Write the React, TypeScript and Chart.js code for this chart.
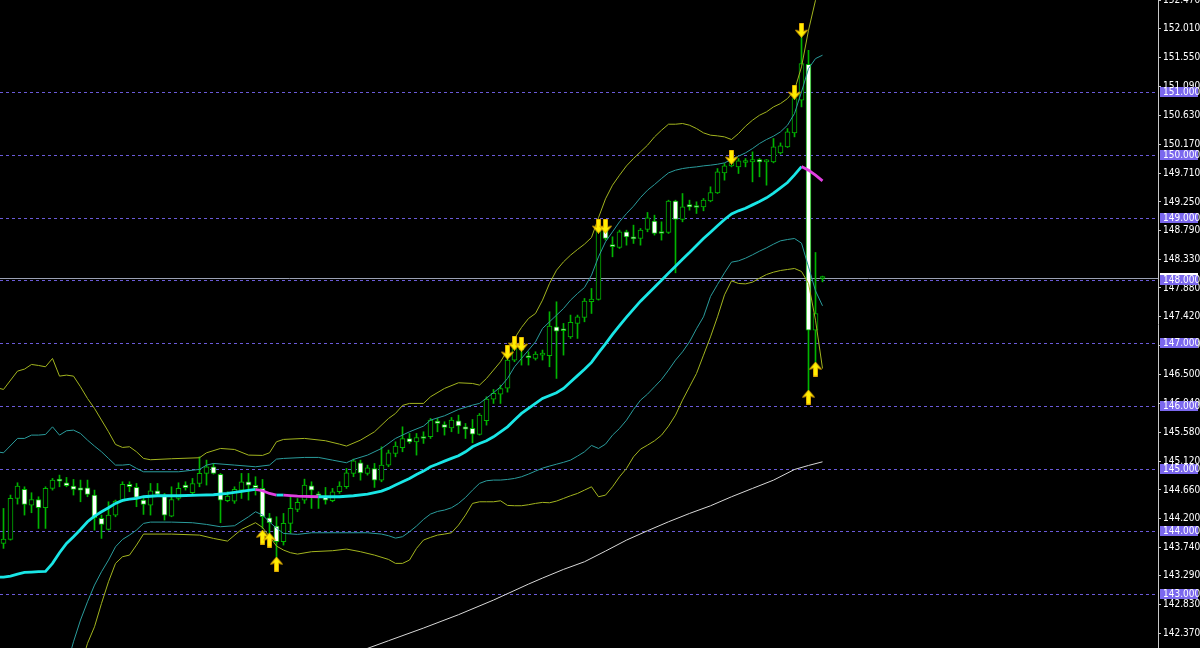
import React, { useEffect, useRef } from "react";
import { Chart, registerables } from "chart.js";
Chart.register(...registerables);

// ---- Candles (index 0..117) ----
const opens = [143.807,143.871,144.524,144.668,144.418,144.508,144.376,144.684,144.806,144.774,144.721,144.694,144.694,144.578,144.206,144.030,144.259,144.482,144.748,144.700,144.498,144.418,144.647,144.578,144.243,144.524,144.737,144.615,144.763,144.923,145.029,144.907,144.487,144.482,144.657,144.790,144.732,144.684,144.216,144.084,143.834,144.126,144.349,144.498,144.726,144.588,144.561,144.487,144.631,144.710,144.923,145.093,144.923,145.002,144.816,145.055,145.241,145.332,145.480,145.427,145.496,145.507,145.757,145.703,145.650,145.762,145.666,145.640,145.544,145.762,146.107,146.187,146.283,146.730,146.942,146.793,146.756,146.809,146.799,147.261,147.208,147.101,147.314,147.409,147.659,147.696,148.854,148.573,148.525,148.775,148.695,148.668,148.812,148.945,148.775,148.764,149.263,148.971,149.210,149.189,149.173,149.269,149.396,149.714,149.826,149.810,149.879,149.890,149.927,149.890,149.890,150.033,150.129,150.352,150.872,151.446,147.207,148.030];
const highs = [144.365,144.578,144.774,144.710,144.615,144.551,144.710,144.843,144.896,144.859,144.827,144.817,144.817,144.657,144.259,144.471,144.498,144.790,144.790,144.763,144.551,144.763,144.763,144.604,144.710,144.774,144.790,144.843,145.188,145.135,145.082,144.923,144.631,144.710,144.923,144.923,144.870,144.827,144.285,144.232,144.285,144.551,144.524,144.832,144.790,144.630,144.700,144.684,144.790,145.002,145.151,145.135,145.055,145.082,145.348,145.295,145.427,145.666,145.560,145.560,145.587,145.799,145.799,145.746,145.815,145.852,145.719,145.783,145.879,146.144,146.261,146.330,146.756,146.968,146.995,146.862,146.862,146.889,147.500,147.659,147.314,147.447,147.447,147.712,147.872,148.934,148.934,148.695,148.801,148.801,148.881,148.828,149.083,149.040,148.934,149.279,149.279,149.385,149.279,149.253,149.306,149.492,149.783,149.863,149.916,149.943,149.943,150.049,149.943,149.927,150.262,150.192,150.421,150.925,151.935,151.669,148.445,148.068];
const lows = [143.728,143.860,144.434,144.259,144.296,144.046,144.046,144.657,144.710,144.710,144.578,144.471,144.551,144.020,143.887,144.020,144.232,144.471,144.631,144.392,144.269,144.259,144.578,144.179,144.232,144.498,144.657,144.578,144.710,144.737,144.912,144.137,144.471,144.445,144.524,144.498,144.578,144.046,143.914,143.542,143.781,143.967,144.312,144.445,144.365,144.365,144.434,144.471,144.604,144.684,144.870,144.816,144.896,144.700,144.790,145.029,145.188,145.268,145.401,145.215,145.401,145.480,145.587,145.534,145.587,145.560,145.480,145.411,145.534,145.693,146.038,146.038,146.219,146.703,146.650,146.650,146.730,146.730,146.623,146.437,146.809,147.075,147.075,147.340,147.473,147.686,148.642,148.376,148.509,148.562,148.589,148.562,148.775,148.722,148.642,148.748,148.121,148.934,149.120,149.067,149.109,149.253,149.385,149.598,149.810,149.704,149.810,149.571,149.651,149.518,149.874,150.012,150.118,150.288,150.766,146.065,146.623,147.977];
const closes = [143.876,144.524,144.721,144.429,144.508,144.376,144.684,144.817,144.801,144.726,144.668,144.657,144.588,144.216,144.110,144.259,144.482,144.748,144.710,144.540,144.429,144.647,144.594,144.259,144.508,144.684,144.694,144.763,144.923,145.029,144.923,144.498,144.562,144.668,144.790,144.737,144.694,144.232,144.137,143.834,144.126,144.365,144.461,144.737,144.657,144.567,144.498,144.631,144.721,144.933,145.124,144.933,145.013,144.816,145.055,145.252,145.358,145.480,145.427,145.496,145.480,145.773,145.719,145.656,145.773,145.682,145.629,145.549,145.852,146.107,146.198,146.277,146.730,146.915,146.889,146.767,146.825,146.825,147.271,147.192,147.197,147.330,147.420,147.670,147.702,148.854,148.668,148.536,148.775,148.695,148.663,148.801,148.998,148.748,148.748,149.263,148.971,149.173,149.173,149.162,149.279,149.401,149.730,149.826,149.879,149.906,149.906,149.927,149.890,149.906,150.129,150.145,150.368,150.899,151.457,147.207,147.473,148.030];

// ---- Indicator lines: [candle index, price] ----
const maMiddle = [[-1,143.266],[0,143.271],[1,143.287],[2,143.319],[3,143.345],[4,143.350],[5,143.356],[6,143.361],[7,143.489],[8,143.659],[9,143.807],[10,143.914],[11,144.030],[12,144.153],[13,144.243],[14,144.312],[15,144.376],[16,144.445],[17,144.493],[18,144.514],[19,144.524],[20,144.551],[22,144.567],[25,144.567],[28,144.578],[30,144.583],[32,144.604],[34,144.636],[36,144.668],[37,144.647],[38,144.604],[39,144.578],[40,144.578],[42,144.562],[45,144.551],[48,144.551],[50,144.567],[52,144.594],[54,144.641],[55,144.684],[56,144.737],[57,144.790],[58,144.843],[59,144.907],[60,144.960],[61,145.029],[62,145.072],[63,145.119],[64,145.162],[65,145.204],[66,145.268],[67,145.348],[68,145.401],[69,145.444],[70,145.507],[71,145.587],[72,145.666],[73,145.773],[74,145.879],[75,145.959],[76,146.039],[77,146.118],[79,146.208],[80,146.277],[81,146.381],[82,146.482],[83,146.585],[84,146.693],[85,146.845],[86,146.989],[87,147.139],[88,147.280],[89,147.416],[90,147.542],[91,147.669],[92,147.781],[93,147.892],[94,148.004],[95,148.116],[96,148.227],[97,148.339],[98,148.445],[99,148.556],[100,148.668],[101,148.769],[102,148.870],[103,148.971],[104,149.061],[105,149.109],[106,149.151],[107,149.204],[108,149.258],[109,149.316],[110,149.391],[111,149.475],[112,149.560],[113,149.682],[114,149.815],[115,149.757],[116,149.677],[117,149.587]];

const innerUpper = [[-1,145.268],[0,145.252],[2,145.481],[3,145.481],[4,145.534],[5,145.534],[6,145.544],[7,145.666],[8,145.534],[9,145.603],[10,145.613],[11,145.560],[12,145.454],[13,145.358],[14,145.268],[15,145.162],[16,145.056],[17,145.056],[18,145.066],[19,145.003],[20,144.949],[25,144.949],[28,144.987],[29,145.056],[30,145.082],[33,145.056],[36,145.029],[38,145.056],[39,145.151],[40,145.162],[43,145.178],[45,145.178],[47,145.135],[49,145.093],[50,145.146],[52,145.215],[54,145.321],[56,145.481],[58,145.587],[60,145.677],[61,145.773],[63,145.842],[65,145.943],[67,146.012],[68,146.039],[70,146.209],[71,146.304],[72,146.437],[73,146.623],[74,146.756],[76,147.021],[77,147.234],[78,147.340],[79,147.446],[80,147.552],[81,147.685],[82,147.791],[83,147.887],[84,148.084],[85,148.376],[86,148.615],[87,148.774],[88,148.934],[89,149.066],[90,149.183],[91,149.321],[92,149.438],[93,149.528],[94,149.624],[95,149.714],[96,149.757],[97,149.783],[98,149.799],[99,149.810],[100,149.826],[101,149.837],[102,149.852],[103,149.874],[104,149.927],[105,149.980],[106,150.033],[107,150.102],[108,150.182],[109,150.246],[110,150.299],[111,150.368],[112,150.474],[113,150.660],[114,151.005],[115,151.377],[116,151.536],[117,151.590]];

const innerLower = [[9,141.84],[10,142.240],[11,142.586],[12,142.877],[13,143.143],[14,143.356],[15,143.542],[16,143.754],[17,143.871],[18,143.940],[19,144.020],[20,144.126],[21,144.147],[24,144.147],[27,144.137],[29,144.110],[31,144.073],[33,144.089],[35,144.232],[36,144.312],[37,144.259],[38,144.150],[39,144.050],[40,143.967],[42,143.951],[44,143.977],[48,143.977],[52,143.977],[54,143.956],[55,143.930],[56,143.892],[57,143.914],[58,143.993],[59,144.084],[60,144.190],[61,144.275],[62,144.317],[63,144.339],[64,144.376],[65,144.445],[66,144.540],[67,144.657],[68,144.764],[69,144.806],[70,144.817],[71,144.817],[72,144.827],[73,144.843],[74,144.870],[75,144.912],[76,144.960],[77,145.007],[78,145.040],[79,145.070],[80,145.100],[81,145.135],[82,145.199],[83,145.268],[84,145.369],[85,145.321],[86,145.390],[87,145.533],[88,145.640],[89,145.772],[90,145.942],[91,146.091],[92,146.187],[93,146.304],[94,146.421],[95,146.569],[96,146.729],[97,146.861],[98,147.021],[99,147.230],[100,147.420],[101,147.744],[102,147.935],[103,148.121],[104,148.291],[105,148.312],[106,148.354],[107,148.408],[108,148.466],[109,148.519],[110,148.578],[111,148.631],[112,148.652],[113,148.668],[114,148.594],[115,148.216],[116,147.834],[117,147.595]];

const outerUpper = [[-1,146.290],[0,146.262],[2,146.554],[3,146.586],[4,146.660],[5,146.644],[6,146.623],[7,146.756],[8,146.474],[9,146.490],[10,146.474],[11,146.304],[12,146.118],[13,145.959],[14,145.773],[15,145.587],[16,145.385],[17,145.337],[18,145.348],[19,145.268],[20,145.162],[21,145.141],[24,145.157],[28,145.173],[29,145.252],[31,145.321],[33,145.305],[35,145.215],[37,145.210],[38,145.252],[39,145.428],[40,145.465],[43,145.481],[46,145.444],[48,145.390],[49,145.359],[51,145.454],[53,145.587],[55,145.799],[56,145.879],[57,146.007],[58,146.039],[60,146.039],[61,146.145],[63,146.278],[65,146.368],[67,146.357],[68,146.331],[69,146.437],[71,146.703],[73,147.074],[74,147.250],[75,147.393],[76,147.473],[77,147.685],[78,147.951],[79,148.163],[80,148.296],[81,148.402],[82,148.493],[83,148.578],[84,148.684],[85,149.000],[86,149.300],[87,149.518],[88,149.677],[89,149.826],[90,149.943],[91,150.049],[92,150.155],[93,150.288],[94,150.394],[95,150.490],[96,150.490],[97,150.501],[98,150.474],[99,150.421],[100,150.352],[101,150.315],[102,150.304],[103,150.288],[104,150.246],[105,150.341],[106,150.458],[107,150.554],[108,150.633],[109,150.687],[110,150.766],[111,150.819],[112,150.899],[113,151.032],[114,151.404],[115,151.988],[116,152.466],[117,152.630]];

const outerLower = [[11,141.84],[12,142.214],[13,142.479],[14,142.851],[15,143.196],[16,143.489],[17,143.595],[18,143.621],[19,143.781],[20,143.956],[24,143.956],[28,143.940],[30,143.887],[32,143.844],[34,144.030],[36,144.137],[37,144.062],[38,143.914],[39,143.765],[40,143.701],[41,143.659],[42,143.637],[44,143.675],[47,143.691],[49,143.717],[51,143.675],[53,143.621],[55,143.552],[56,143.489],[57,143.489],[58,143.542],[59,143.728],[60,143.861],[61,143.903],[62,143.940],[63,143.956],[64,143.977],[65,144.099],[66,144.259],[67,144.445],[68,144.471],[69,144.471],[70,144.471],[71,144.487],[72,144.413],[73,144.408],[74,144.408],[75,144.424],[76,144.445],[77,144.461],[78,144.455],[79,144.482],[80,144.524],[81,144.567],[82,144.604],[83,144.657],[84,144.710],[85,144.551],[86,144.577],[87,144.710],[88,144.869],[89,145.002],[90,145.188],[91,145.310],[92,145.374],[93,145.443],[94,145.533],[95,145.677],[96,145.852],[97,146.091],[98,146.304],[99,146.516],[100,146.808],[101,147.100],[102,147.420],[103,147.770],[104,147.993],[105,147.951],[106,147.945],[107,147.972],[108,148.036],[109,148.094],[110,148.131],[111,148.158],[112,148.174],[113,148.190],[114,148.142],[115,147.951],[116,147.366],[117,146.596]];

const slowMa = [[51,142.090],[52,142.134],[55,142.256],[60,142.458],[65,142.671],[70,142.904],[75,143.159],[77,143.255],[80,143.393],[83,143.515],[86,143.685],[89,143.860],[92,144.009],[95,144.152],[98,144.285],[101,144.407],[104,144.551],[107,144.684],[110,144.816],[113,144.986],[115,145.050],[117,145.108]];

// ---- Signal arrows ----
const upArrowIdx = [37, 38, 39, 115, 116];
const upArrowPrice = [143.908, 143.861, 143.478, 146.140, 146.586];
const downArrowIdx = [72, 73, 74, 85, 86, 104, 113, 114];
const downArrowPrice = [146.857, 147.000, 146.984, 148.865, 148.865, 149.964, 151.000, 151.988];

// ---- Axis / levels ----
const priceTicks = [152.47,152.01,151.55,151.09,150.63,150.17,149.71,149.25,148.79,148.33,147.88,147.42,146.96,146.50,146.04,145.58,145.12,144.66,144.20,143.74,143.29,142.83,142.37];
const levelLines = [151, 150, 149, 148, 147, 146, 145, 144, 143];
const bidPrice = 148.03;
const yMin = 142.14;
const yMax = 152.47;
const xMin = -0.5;
const xMax = 164.928571;

const GREEN = "#00b400";
const CYAN = "#19e6e6";
const MAGENTA = "#e040e0";
const TEAL = "#2a9c9c";
const OLIVE = "#a2b41e";
const LEVEL = "#6a5ad8";
const LABEL_BG = "#7b68ee";
const FONT = '"Liberation Sans Narrow", "DejaVu Sans Condensed", "Liberation Sans", sans-serif';

function makeArrow(up: boolean): HTMLCanvasElement {
  const c = document.createElement("canvas");
  c.width = 13;
  c.height = 15;
  const g = c.getContext("2d")!;
  g.save();
  if (!up) {
    g.translate(0, 15);
    g.scale(1, -1);
  }
  g.fillStyle = "#ffee00";
  g.strokeStyle = "#e0a800";
  g.lineWidth = 1;
  g.beginPath();
  g.moveTo(6.5, 0.5);
  g.lineTo(12.5, 7.5);
  g.lineTo(8.5, 6.5);
  g.lineTo(8.5, 14.5);
  g.lineTo(4.5, 14.5);
  g.lineTo(4.5, 6.5);
  g.lineTo(0.5, 7.5);
  g.closePath();
  g.fill();
  g.stroke();
  g.restore();
  return c;
}

const toXY = (arr: number[][]) => arr.map(([x, y]) => ({ x, y }));

export default function App() {
  const ref = useRef<HTMLCanvasElement | null>(null);

  useEffect(() => {
    document.body.style.margin = "0";
    document.body.style.background = "#000";
    const canvas = ref.current!;
    const idx = opens.map((_, i) => i);
    const upImg = makeArrow(true);
    const downImg = makeArrow(false);

    const bgPlugin = {
      id: "bg",
      beforeDraw(chart: any) {
        const ctx = chart.ctx;
        ctx.save();
        ctx.fillStyle = "#000";
        ctx.fillRect(0, 0, chart.width, chart.height);
        ctx.restore();
      },
    };

    const levelsPlugin = {
      id: "levels",
      beforeDatasetsDraw(chart: any) {
        const ctx = chart.ctx;
        const ys = chart.scales.y;
        const area = chart.chartArea;
        ctx.save();
        ctx.lineWidth = 1;
        ctx.strokeStyle = LEVEL;
        ctx.setLineDash([3, 3]);
        levelLines.forEach((v) => {
          const y = Math.round(ys.getPixelForValue(v)) + 0.5;
          ctx.beginPath();
          ctx.moveTo(area.left, y);
          ctx.lineTo(area.right, y);
          ctx.stroke();
        });
        ctx.setLineDash([]);
        ctx.strokeStyle = "#9aa0b4";
        const by = Math.round(ys.getPixelForValue(bidPrice)) - 0.5;
        ctx.beginPath();
        ctx.moveTo(area.left, by);
        ctx.lineTo(area.right, by);
        ctx.stroke();
        ctx.restore();
      },
      afterDraw(chart: any) {
        const ctx = chart.ctx;
        const ys = chart.scales.y;
        const x0 = chart.chartArea.right + 2;
        ctx.save();
        ctx.font = "10px " + FONT;
        ctx.textBaseline = "middle";
        const by = ys.getPixelForValue(bidPrice);
        ctx.fillStyle = "#ffffff";
        ctx.fillRect(x0, Math.round(by) - 6, 38, 11);
        levelLines.forEach((v) => {
          const y = ys.getPixelForValue(v);
          ctx.fillStyle = LABEL_BG;
          ctx.fillRect(x0, Math.round(y) - 5, 38, 10);
          ctx.fillStyle = "#ffffff";
          ctx.fillText(v.toFixed(3), x0 + 3, Math.round(y) + 0.5);
        });
        ctx.restore();
      },
    };

    const chart = new Chart(canvas, {
      type: "bar",
      data: {
        datasets: [
          {
            type: "line",
            data: upArrowIdx.map((x, i) => ({ x, y: upArrowPrice[i] })),
            showLine: false,
            pointStyle: upImg as any,
            pointRadius: 6,
            order: 0,
          } as any,
          {
            type: "line",
            data: downArrowIdx.map((x, i) => ({ x, y: downArrowPrice[i] })),
            showLine: false,
            pointStyle: downImg as any,
            pointRadius: 6,
            order: 1,
          } as any,
          {
            type: "line",
            data: toXY(maMiddle),
            borderColor: CYAN,
            borderWidth: 2.8,
            pointRadius: 0,
            tension: 0,
            segment: {
              borderColor: (c: any) => (c.p1.parsed.y < c.p0.parsed.y - 0.0005 ? MAGENTA : CYAN),
            },
            order: 2,
          } as any,
          { type: "line", data: toXY(innerUpper), borderColor: TEAL, borderWidth: 1, pointRadius: 0, tension: 0, order: 3 } as any,
          { type: "line", data: toXY(innerLower), borderColor: TEAL, borderWidth: 1, pointRadius: 0, tension: 0, order: 4 } as any,
          { type: "line", data: toXY(outerUpper), borderColor: OLIVE, borderWidth: 1, pointRadius: 0, tension: 0, order: 5 } as any,
          { type: "line", data: toXY(outerLower), borderColor: OLIVE, borderWidth: 1, pointRadius: 0, tension: 0, order: 6 } as any,
          { type: "line", data: toXY(slowMa), borderColor: "#d8d8d8", borderWidth: 1, pointRadius: 0, tension: 0, order: 7 } as any,
          {
            type: "bar",
            data: idx.map((i) => ({ x: i, y: [Math.min(opens[i], closes[i]), Math.max(opens[i], closes[i])] })),
            backgroundColor: idx.map((i) => (closes[i] < opens[i] ? "#ffffff" : "#000000")),
            borderColor: GREEN,
            borderWidth: 1,
            borderSkipped: false,
            barThickness: 5,
            minBarLength: 2,
            grouped: false,
            order: 8,
          } as any,
          {
            type: "bar",
            data: idx.map((i) => ({ x: i, y: [lows[i], highs[i]] })),
            backgroundColor: GREEN,
            borderWidth: 0,
            barThickness: 1,
            grouped: false,
            order: 9,
          } as any,
        ],
      },
      options: {
        animation: false,
        responsive: false,
        devicePixelRatio: 1,
        layout: { padding: 0, autoPadding: false },
        plugins: { legend: { display: false }, tooltip: { enabled: false } },
        scales: {
          x: { type: "linear", min: xMin, max: xMax, display: false, offset: false },
          y: {
            type: "linear",
            position: "right",
            min: yMin,
            max: yMax,
            afterBuildTicks: (s: any) => {
              s.ticks = priceTicks.map((v) => ({ value: v }));
            },
            afterFit: (s: any) => {
              s.width = 42;
              s.paddingTop = 0;
              s.paddingBottom = 0;
            },
            ticks: {
              color: "#ffffff",
              font: { family: FONT, size: 10 },
              padding: 2,
              autoSkip: false,
              maxRotation: 0,
              callback: (v: any) => Number(v).toFixed(3),
            },
            grid: { drawOnChartArea: false, drawTicks: true, tickLength: 3, color: "#c8c8c8" },
            border: { display: true, color: "#c8c8c8", width: 1 },
          },
        },
      } as any,
      plugins: [bgPlugin, levelsPlugin],
    });
    return () => chart.destroy();
  }, []);

  return (
    <div style={{ width: 1200, height: 648, background: "#000" }}>
      <canvas ref={ref} width={1200} height={648} style={{ display: "block" }} />
    </div>
  );
}
